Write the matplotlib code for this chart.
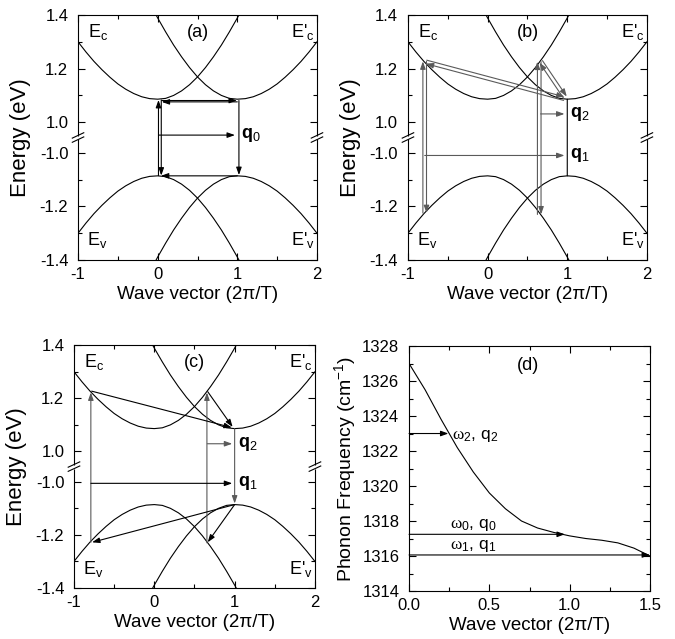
import numpy as np
import matplotlib
matplotlib.use("Agg")
import matplotlib.pyplot as plt
from matplotlib.ticker import MultipleLocator
from matplotlib.transforms import ScaledTranslation

plt.rcParams['font.family'] = ['Liberation Sans', 'DejaVu Sans']
plt.rcParams['mathtext.fontset'] = 'custom'
plt.rcParams['mathtext.rm'] = 'Liberation Sans'
plt.rcParams['mathtext.it'] = 'Liberation Sans:italic'
plt.rcParams['mathtext.bf'] = 'Liberation Sans:bold'
plt.rcParams['mathtext.sf'] = 'Liberation Serif'
plt.rcParams['axes.unicode_minus'] = False

# ---- band structure, energies in eV ----
k_band = [-1.0, -0.9, -0.8, -0.7, -0.6, -0.5, -0.4, -0.3, -0.2, -0.1, 0.0,
          0.1, 0.2, 0.3, 0.4, 0.5, 0.6, 0.7, 0.8, 0.9, 1.0, 1.1]
ec_band = [1.300, 1.262, 1.227, 1.196, 1.168, 1.143, 1.123, 1.107, 1.095, 1.088, 1.086,
           1.089, 1.100, 1.117, 1.140, 1.169, 1.204, 1.244, 1.288, 1.337, 1.389, 1.444]
# E'c is the mirror image of Ec about k = 0.5, valence bands mirror the conduction bands
k_band_p = [1.0 - k for k in k_band]
ev_band = [-e for e in ec_band]

e_major = [1.4, 1.2, 1.0, -1.0, -1.2, -1.4]
e_major_lbl = ['1.4', '1.2', '1.0', '-1.0', '-1.2', '-1.4']
e_minor = [1.3, 1.1, -1.1, -1.3]

# ---- transitions (k0, E0, k1, E1) ----
arrows_a = [(0.01, -1.085, 0.01, 1.083), (0.045, 1.083, 0.045, -1.085),
            (0.05, 1.081, 0.995, 1.081), (1.0, 1.076, 0.05, 1.076),
            (1.02, 1.081, 1.02, -1.083), (1.0, -1.086, 0.04, -1.086),
            (0.01, 0.952, 0.97, 0.952)]
doubles_b = [(-0.79, -1.225, -0.79, 1.227), (-0.77, 1.225, 0.96, 1.088),
             (0.648, -1.230, 0.648, 1.226), (0.67, 1.226, 0.975, 1.092)]
arrows_b = [(0.665, 1.031, 0.965, 1.031), (-0.79, -1.010, 0.965, -1.010)]
lines_b = [(1.0, 1.086, 1.0, -1.086)]
arrows_c_gray = [(-0.79, -1.228, -0.79, 1.222), (0.655, -1.230, 0.655, 1.222),
                 (1.0, 1.086, 1.0, -1.082), (0.66, 1.029, 0.97, 1.029)]
arrows_c_black = [(-0.78, 1.227, 0.965, 1.090), (0.665, 1.225, 0.975, 1.092),
                  (1.0, -1.086, 0.665, -1.228), (1.0, -1.086, -0.775, -1.228),
                  (-0.79, -1.006, 0.97, -1.006)]

# ---- phonon dispersion (panel d) ----
k_ph = [0.0, 0.1, 0.2, 0.25, 0.3, 0.4, 0.5, 0.6, 0.7, 0.8, 0.9, 1.0, 1.1, 1.2, 1.3, 1.4, 1.5]
w_ph = [1327.0, 1325.5, 1323.8, 1323.0, 1322.2, 1320.8, 1319.6, 1318.7, 1318.0,
        1317.6, 1317.35, 1317.15, 1317.0, 1316.9, 1316.75, 1316.45, 1316.0]
arrows_d = [(0.0, 1323.0, 0.245, 1323.0), (0.0, 1317.24, 0.97, 1317.24),
            (0.0, 1316.06, 1.5, 1316.06)]

GAP = 0.057


def to_d(e):
    # broken energy axis: 1.0 .. 1.4 above, -1.4 .. -1.0 below
    e = np.asarray(e, dtype=float)
    return np.where(e > 0, e - 1 + GAP, e + 1 - GAP)


HEAD = '-|>,head_length=0.45,head_width=0.16'


def arrow(ax, k0, y0, k1, y1, color='black', lw=0.8, head=True, off=(0, 0)):
    tr = ax.transData + ScaledTranslation(off[0] / 72, off[1] / 72, ax.figure.dpi_scale_trans)
    ax.annotate('', xy=(k1, y1), xytext=(k0, y0), xycoords=tr, textcoords=tr,
                arrowprops=dict(arrowstyle=HEAD if head else '-', color=color, lw=lw,
                                shrinkA=0, shrinkB=0, mutation_scale=10))


def e_arrow(ax, a, **kw):
    arrow(ax, a[0], float(to_d(a[1])), a[2], float(to_d(a[3])), **kw)


def double_arrow(ax, a, color, sep=1.3):
    p0 = ax.transData.transform((a[0], float(to_d(a[1]))))
    p1 = ax.transData.transform((a[2], float(to_d(a[3]))))
    d = (p1 - p0) / np.hypot(*(p1 - p0))
    n = np.array([-d[1], d[0]]) * sep
    e_arrow(ax, a, color=color, off=(n[0], n[1]))
    e_arrow(ax, (a[2], a[3], a[0], a[1]), color=color, off=(-n[0], -n[1]))


def style_ticks(ax):
    ax.tick_params(which='both', direction='in', top=True, right=True, width=0.8, labelsize=12)
    ax.tick_params(which='major', length=5)
    ax.tick_params(which='minor', length=3)
    ax.tick_params(axis='y', pad=7)
    ax.tick_params(axis='x', pad=5)
    for s in ax.spines.values():
        s.set_linewidth(0.8)


def break_marks(ax):
    for x in (0, 1):
        ax.plot([x, x], [0.492, 0.508], color='white', lw=2.5, transform=ax.transAxes,
                clip_on=False, zorder=5, solid_capstyle='butt')
        for dy in (-0.0085, 0.0085):
            ax.plot([x - 0.024, x + 0.024], [0.5 + dy - 0.011, 0.5 + dy + 0.011], color='black',
                    lw=0.8, transform=ax.transAxes, clip_on=False, zorder=6)


def energy_panel(ax, tag):
    ax.set_xlim(-1, 2)
    ax.set_ylim(float(to_d(-1.4)), float(to_d(1.4)))
    kw = dict(color='black', lw=0.8)
    ax.plot(k_band, to_d(ec_band), **kw)
    ax.plot(k_band_p, to_d(ec_band), **kw)
    ax.plot(k_band, to_d(ev_band), **kw)
    ax.plot(k_band_p, to_d(ev_band), **kw)
    ax.set_yticks(to_d(e_major))
    ax.set_yticklabels(e_major_lbl)
    ax.set_yticks(to_d(e_minor), minor=True)
    ax.xaxis.set_major_locator(MultipleLocator(1))
    ax.xaxis.set_minor_locator(MultipleLocator(0.5))
    style_ticks(ax)
    break_marks(ax)
    ax.set_xlabel('Wave vector (2π/T)', fontsize=13.5, labelpad=3)
    ax.set_ylabel('Energy (eV)', fontsize=16, labelpad=6)
    fs = 13
    ax.text(-0.87, float(to_d(1.336)), 'E$_\\mathrm{c}$', fontsize=fs, va='center')
    ax.text(1.97, float(to_d(1.336)), "E'$_\\mathrm{c}$", fontsize=fs, va='center', ha='right')
    ax.text(-0.89, float(to_d(-1.327)), 'E$_\\mathrm{v}$', fontsize=fs, va='center')
    ax.text(1.97, float(to_d(-1.327)), "E'$_\\mathrm{v}$", fontsize=fs, va='center', ha='right')
    ax.text(0.5, float(to_d(1.334)), tag, fontsize=13, va='center', ha='center')


fig = plt.figure(figsize=(6.75, 6.39), dpi=100)
ax_a = fig.add_axes([0.1156, 0.5931, 0.354, 0.3834])
ax_b = fig.add_axes([0.6044, 0.5931, 0.354, 0.3834])
ax_c = fig.add_axes([0.1096, 0.0798, 0.357, 0.380])
ax_d = fig.add_axes([0.606, 0.0751, 0.357, 0.3834])

# (a)
energy_panel(ax_a, '(a)')
for a in arrows_a:
    e_arrow(ax_a, a)
ax_a.text(1.05, float(to_d(0.952)), r'$\mathbf{q}_0$', fontsize=13, va='center')

# (b)
energy_panel(ax_b, '(b)')
gray = '#5a5a5a'
for a in doubles_b:
    double_arrow(ax_b, a, gray)
for a in arrows_b:
    e_arrow(ax_b, a, color=gray)
for a in lines_b:
    e_arrow(ax_b, a, head=False)
ax_b.text(1.04, float(to_d(1.031)), r'$\mathbf{q}_2$', fontsize=13, va='center')
ax_b.text(1.04, float(to_d(-1.010)), r'$\mathbf{q}_1$', fontsize=13, va='center')

# (c)
energy_panel(ax_c, '(c)')
for a in arrows_c_gray:
    e_arrow(ax_c, a, color=gray)
for a in arrows_c_black:
    e_arrow(ax_c, a)
ax_c.text(1.04, float(to_d(1.029)), r'$\mathbf{q}_2$', fontsize=13, va='center')
ax_c.text(1.04, float(to_d(-1.006)), r'$\mathbf{q}_1$', fontsize=13, va='center')

# (d)
ax_d.plot(k_ph, w_ph, color='black', lw=0.8)
for a in arrows_d:
    arrow(ax_d, *a)
ax_d.set_xlim(0, 1.5)
ax_d.set_ylim(1314, 1328)
ax_d.xaxis.set_major_locator(MultipleLocator(0.5))
ax_d.xaxis.set_minor_locator(MultipleLocator(0.25))
ax_d.yaxis.set_major_locator(MultipleLocator(2))
ax_d.yaxis.set_minor_locator(MultipleLocator(1))
style_ticks(ax_d)
ax_d.set_xlabel('Wave vector (2π/T)', fontsize=13.5, labelpad=3)
ax_d.set_ylabel('Phonon Frequency (cm$^{-1}$)', fontsize=14, labelpad=3)
ax_d.text(0.74, 1326.9, '(d)', fontsize=13, ha='center', va='center')
ax_d.text(0.27, 1322.85, r'$\mathsf{\omega}_2$, q$_2$', fontsize=12.5, va='center')
ax_d.text(0.255, 1317.75, r'$\mathsf{\omega}_0$, q$_0$', fontsize=12.5, va='center')
ax_d.text(0.255, 1316.6, r'$\mathsf{\omega}_1$, q$_1$', fontsize=12.5, va='center')

fig.savefig('out.png', dpi=100)
